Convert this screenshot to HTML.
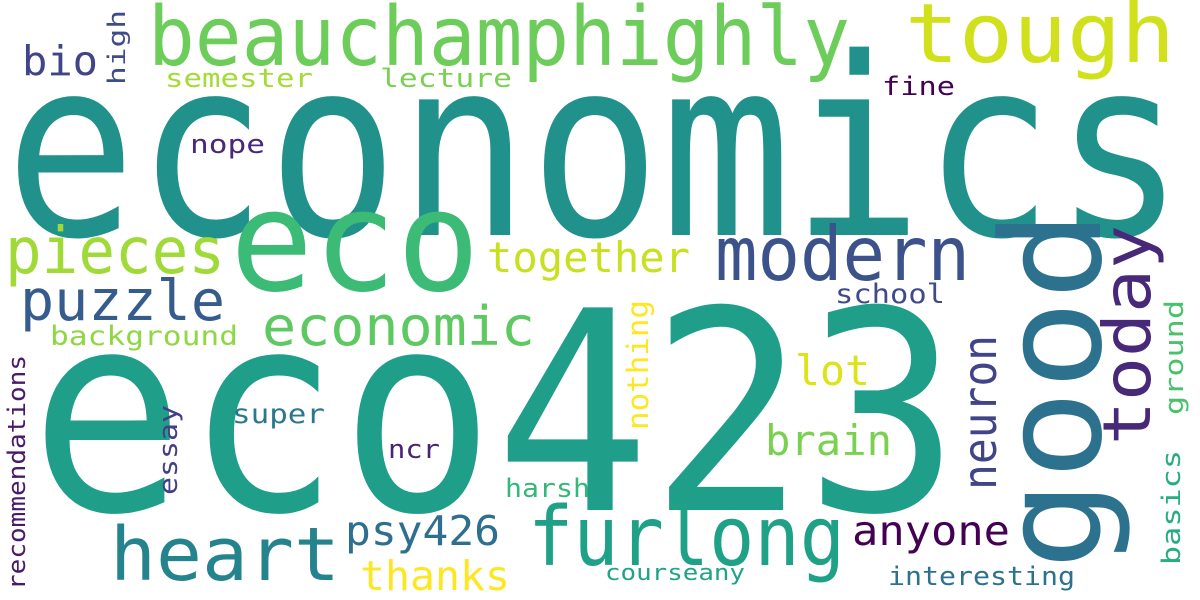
<!DOCTYPE html>
<html><head><meta charset="utf-8"><style>
html,body{margin:0;padding:0;background:#fff;}
svg{display:block;}
text{font-family:"DejaVu Sans Mono","Liberation Mono",monospace;}
</style></head><body>
<svg width="1200" height="600" viewBox="0 0 1200 600">
<rect width="1200" height="600" fill="#fff"/>
<g id="words"></g>
</svg>
<script>
// [word, x, y(baseline or bottom), font-size, length, color, rotated]
const words = [
 ["economics",5,235,248,1180,"#21918c",0],
 ["eco423",30,510,278,930,"#1f9e89",0],
 ["beauchamphighly",148,65,82,702,"#6ccd5a",0],
 ["tough",905,62,82,270,"#d0e11c",0],
 ["eco",230,290,140,250,"#3bbb75",0],
 ["modern",715,280,75,255,"#3b528b",0],
 ["pieces",5,273,64,220,"#a0da39",0],
 ["puzzle",20,320,56,205,"#365c8d",0],
 ["economic",262,345,54,273,"#5ec962",0],
 ["together",487,272,42,203,"#c8e020",0],
 ["heart",110,580,74,230,"#25838e",0],
 ["furlong",528,565,82,317,"#1fa187",0],
 ["psy426",345,545,41,155,"#2e6e8e",0],
 ["thanks",360,590,41,150,"#fde725",0],
 ["anyone",852,545,41,158,"#440154",0],
 ["lot",795,385,42,75,"#dde318",0],
 ["brain",765,455,42,127,"#7ad151",0],
 ["school",835,303,27,110,"#3e4a89",0],
 ["background",50,345,27,188,"#8fd744",0],
 ["super",232,423,27,93,"#2a788e",0],
 ["ncr",388,458,26,52,"#482475",0],
 ["harsh",505,497,26,85,"#35b779",0],
 ["interesting",888,585,26,187,"#2c728e",0],
 ["courseany",605,580,22,140,"#20a386",0],
 ["nope",190,153,26,75,"#482878",0],
 ["fine",882,95,26,73,"#440154",0],
 ["semester",165,87,26,148,"#a5db36",0],
 ["lecture",380,87,26,132,"#7ad151",0],
 ["bio",22,75,41,76,"#414487",0],
 ["good",1100,570,138,360,"#2c728e",1],
 ["today",1150,445,66,220,"#482878",1],
 ["neuron",996,490,46,155,"#414487",1],
 ["essay",177,495,26,90,"#433e85",1],
 ["nothing",648,430,29,130,"#fde725",1],
 ["recommendations",25,590,24,235,"#481a6c",1],
 ["basics",1180,565,26,115,"#26ad81",1],
 ["ground",1183,415,26,115,"#4ac16d",1],
 ["high",125,85,24,75,"#3e4c8a",1]
];
const g = document.getElementById('words');
const NS = "http://www.w3.org/2000/svg";
for (const w of words) {
  const t = document.createElementNS(NS, 'text');
  t.textContent = w[0];
  t.setAttribute('font-size', w[3]);
  t.setAttribute('fill', w[5]);
  t.setAttribute('textLength', w[4]);
  t.setAttribute('lengthAdjust', 'spacingAndGlyphs');
  if (w[6]) {
    t.setAttribute('x', 0); t.setAttribute('y', 0);
    t.setAttribute('transform', `translate(${w[1]},${w[2]}) rotate(-90)`);
  } else {
    t.setAttribute('x', w[1]); t.setAttribute('y', w[2]);
  }
  
  
  g.appendChild(t);
}
</script>
</body></html>
